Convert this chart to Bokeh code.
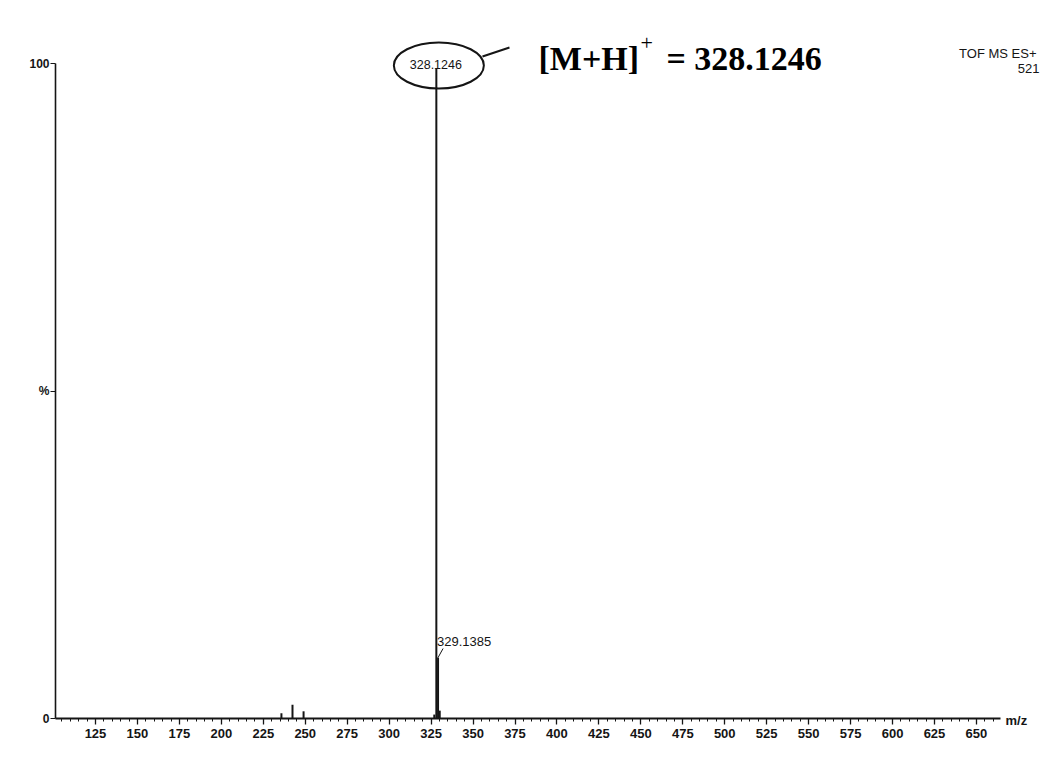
from bokeh.plotting import figure
from bokeh.models import Label, FixedTicker, Range1d
from bokeh.embed import file_html
from bokeh.resources import INLINE

# Stick spectrum (m/z, relative intensity %)
mz = [235.8, 242.4, 249.0, 326.9, 328.1246, 329.1385, 330.14]
intensity = [0.8, 2.1, 1.1, 0.6, 100.0, 9.3, 1.2]

base_peak_mz = 328.1246
isotope_mz = 329.1385
base_peak_text = "328.1246"
isotope_text = "329.1385"

x_ticks = list(range(125, 651, 25))
x_minor = list(range(105, 665, 5))
y_ticks = [0, 50, 100]
y_tick_labels = {0: "0", 50: "%", 100: "100"}

W, H = 1041, 764
AX_X, AX_Y, AX_END = 55, 718, 1000     # axis lines in page pixels
PPU = 1.678                            # pixels per m/z unit
PPY = (AX_Y - 63) / 100.0              # pixels per % intensity
X0 = 125 - 95 / PPU                    # m/z at the left page edge
X1 = X0 + W / PPU
Y0 = -(H - AX_Y) / PPY
Y1 = AX_Y / PPY


def dx(px):
    return X0 + px / PPU


def dy(py):
    return (AX_Y - py) / PPY


p = figure(width=W, height=H, output_backend="svg", toolbar_location=None,
           x_range=Range1d(X0, X1), y_range=Range1d(Y0, Y1))
p.min_border = 0
p.outline_line_color = None
p.xgrid.visible = False
p.ygrid.visible = False
p.background_fill_color = "white"
p.border_fill_color = "white"

ink = "#151515"

# x axis sits on the zero line
xa = p.xaxis[0]
xa.fixed_location = 0
xa.ticker = FixedTicker(ticks=x_ticks, minor_ticks=x_minor)
xa.axis_line_color = None
xa.major_tick_in = 0
xa.major_tick_out = 6
xa.minor_tick_in = 0
xa.minor_tick_out = 3
xa.major_tick_line_color = ink
xa.major_tick_line_width = 1.3
xa.minor_tick_line_color = ink
xa.major_label_text_font = "Liberation Sans"
xa.major_label_text_font_size = "13px"
xa.major_label_text_font_style = "bold"
xa.major_label_text_color = ink
xa.major_label_standoff = 4

# y axis
ya = p.yaxis[0]
ya.fixed_location = dx(AX_X)
ya.ticker = FixedTicker(ticks=y_ticks)
ya.major_label_overrides = y_tick_labels
ya.axis_line_color = None
ya.major_tick_in = 0
ya.major_tick_out = 5
ya.minor_tick_line_color = None
ya.major_tick_line_color = ink
ya.major_label_text_font = "Liberation Sans"
ya.major_label_text_font_size = "12px"
ya.major_label_text_font_style = "bold"
ya.major_label_text_color = ink
ya.major_label_standoff = 1

# axis lines
p.segment(x0=[dx(AX_X)], y0=[0], x1=[dx(AX_X)], y1=[100],
          line_color=ink, line_width=1.6)
p.segment(x0=[dx(AX_X)], y0=[0], x1=[dx(AX_END)], y1=[0],
          line_color=ink, line_width=1.8)

# spectrum sticks
p.segment(x0=mz, y0=[0] * len(mz), x1=mz, y1=intensity,
          line_color=ink, line_width=2)

# base peak label inside an ellipse
p.ellipse(x=[base_peak_mz + 1.5], y=[dy(65)], width=90, height=46,
          width_units="screen", height_units="screen",
          fill_color=None, line_color=ink, line_width=2)
p.add_layout(Label(x=base_peak_mz - 0.3, y=dy(64), text=base_peak_text,
                   text_font="Liberation Sans", text_font_size="12.5px",
                   text_color=ink, text_align="center",
                   text_baseline="middle",
                   background_fill_color="white",
                   background_fill_alpha=1.0))

# callout line to the annotation
p.segment(x0=[dx(482)], y0=[dy(56)], x1=[dx(509)], y1=[dy(47)],
          line_color=ink, line_width=2)

# [M+H]+ annotation
p.add_layout(Label(x=dx(538), y=dy(58), text="[M+H]",
                   text_font="Liberation Serif", text_font_style="bold",
                   text_font_size="34px", text_color="black",
                   text_baseline="alphabetic"))
p.add_layout(Label(x=dx(640), y=dy(42), text="+",
                   text_font="Liberation Serif",
                   text_font_size="22px", text_color="black",
                   text_baseline="alphabetic"))
p.add_layout(Label(x=dx(666), y=dy(58), text="= 328.1246",
                   text_font="Liberation Serif", text_font_style="bold",
                   text_font_size="34px", text_color="black",
                   text_baseline="alphabetic"))

# isotope peak label with leader
p.segment(x0=[isotope_mz], y0=[intensity[5]], x1=[isotope_mz + 3],
          y1=[dy(648)], line_color=ink, line_width=1)
p.add_layout(Label(x=isotope_mz - 0.6, y=dy(641), text=isotope_text,
                   text_font="Liberation Sans", text_font_size="13px",
                   text_color=ink, text_baseline="middle"))

# instrument header
p.add_layout(Label(x=dx(1036), y=dy(53), text="TOF MS ES+",
                   text_font="Liberation Sans", text_font_size="13px",
                   text_color=ink, text_align="right",
                   text_baseline="middle"))
p.add_layout(Label(x=dx(1039), y=dy(68), text="521",
                   text_font="Liberation Sans", text_font_size="13px",
                   text_color=ink, text_align="right",
                   text_baseline="middle"))

# axis title
p.add_layout(Label(x=dx(1005), y=dy(720), text="m/z",
                   text_font="Liberation Sans", text_font_size="13px",
                   text_font_style="bold",
                   text_color=ink, text_baseline="middle"))

open("out.html", "w").write(file_html(p, INLINE))
